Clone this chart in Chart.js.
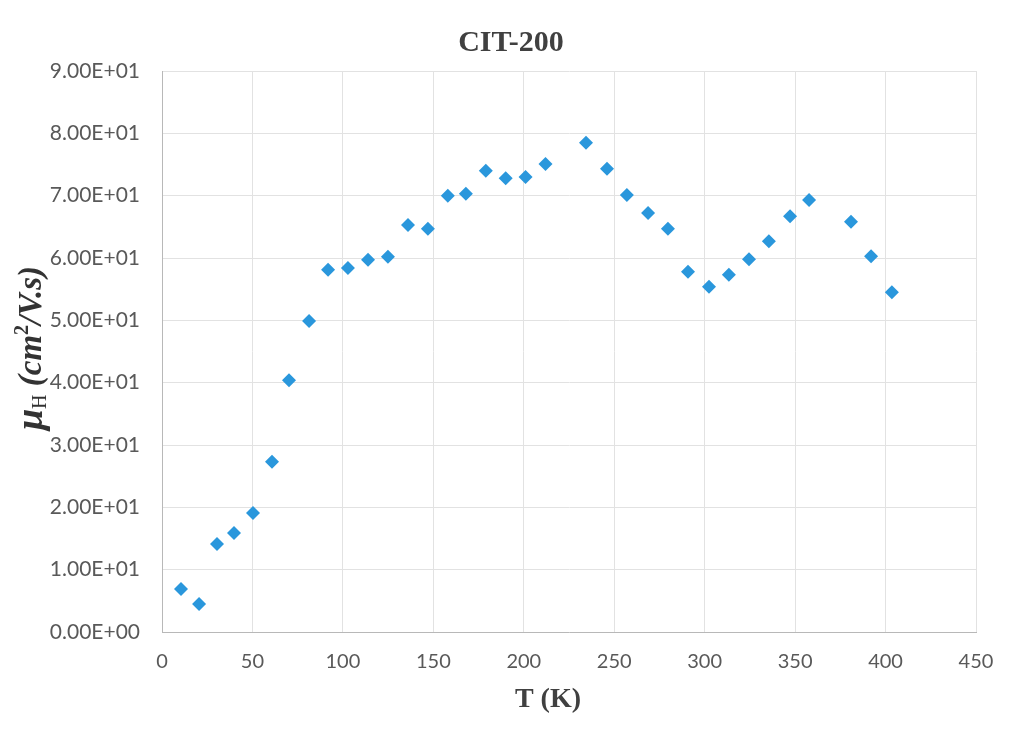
<!DOCTYPE html>
<html>
<head>
<meta charset="utf-8">
<title>CIT-200</title>
<script src="https://cdn.jsdelivr.net/npm/chart.js@4/dist/chart.umd.min.js"></script>
<style>
  html, body { margin: 0; padding: 0; background: #fff; }
  #wrap { width: 1014px; height: 732px; }
</style>
</head>
<body>
<div id="wrap"><canvas id="mobilityChart" width="1014" height="732"></canvas></div>
<script>
// Hall-mobilitet mot temperatur for CIT-200
const temperaturK = [10.5, 20.5, 30.4, 39.8, 50.3, 60.8, 70.2, 81.3, 91.8, 102.8,
  113.9, 124.9, 136, 147, 158, 168, 179, 190, 201, 212,
  234.4, 246, 257, 268.7, 279.7, 290.8, 302.4, 313.4, 324.5, 335.5,
  347.2, 357.7, 380.9, 392, 403.5];
const mobilitet = [6.9, 4.5, 14.1, 15.9, 19.1, 27.3, 40.4, 49.9, 58.1, 58.4,
  59.7, 60.2, 65.3, 64.7, 70.0, 70.3, 74.0, 72.8, 73.0, 75.1,
  78.5, 74.3, 70.1, 67.2, 64.7, 57.8, 55.4, 57.3, 59.8, 62.7,
  66.7, 69.3, 65.8, 60.3, 54.5];

const tittel = 'CIT-200';
const xTittel = 'T (K)';

const punkter = temperaturK.map((t, i) => ({ x: t, y: mobilitet[i] }));

// Excel-stil: 9.00E+01
function vitenskapelig(v) {
  if (v === 0) return '0.00E+00';
  const e = Math.floor(Math.log10(Math.abs(v)));
  const m = v / Math.pow(10, e);
  const eks = (e < 0 ? '-' : '+') + String(Math.abs(e)).padStart(2, '0');
  return m.toFixed(2) + 'E' + eks;
}

// Tittel og aksetitler tegnes for hånd (y-tittelen har senket skrift)
const tekstPlugin = {
  id: 'tekster',
  afterDraw(chart) {
    const ctx = chart.ctx;
    ctx.save();
    ctx.fillStyle = '#404040';
    ctx.textBaseline = 'middle';
    ctx.textAlign = 'center';
    ctx.font = 'bold 30px "Liberation Serif"';
    ctx.fillText(tittel, 511, 43);
    ctx.font = 'bold 28px "Liberation Serif"';
    ctx.fillText(xTittel, 548, 700);

    // μH (cm²/V.s), rotert
    ctx.translate(32, 348);
    ctx.rotate(-Math.PI / 2);
    ctx.textAlign = 'left';
    ctx.fillStyle = '#333333';
    const deler = [
      { t: 'μ', f: 'bold italic 38px "Liberation Serif"', dy: 0 },
      { t: 'H', f: '20px "Liberation Serif"', dy: 9 },
      { t: ' (cm', f: 'bold italic 33px "Liberation Serif"', dy: 0 },
      { t: '2', f: 'bold 20px "Liberation Serif"', dy: -9 },
      { t: '/V.s)', f: 'bold italic 33px "Liberation Serif"', dy: 0 }
    ];
    let bredde = 0;
    deler.forEach(d => { ctx.font = d.f; bredde += ctx.measureText(d.t).width; });
    let x = -bredde / 2;
    deler.forEach(d => {
      ctx.font = d.f;
      ctx.fillText(d.t, x, d.dy);
      x += ctx.measureText(d.t).width;
    });
    ctx.restore();
  }
};

const ctx = document.getElementById('mobilityChart').getContext('2d');

new Chart(ctx, {
  type: 'scatter',
  data: {
    datasets: [{
      label: 'μH',
      data: punkter,
      pointStyle: 'rectRot',
      pointRadius: 7,
      pointHoverRadius: 7,
      backgroundColor: '#2a97dc',
      borderColor: '#2a97dc',
      borderWidth: 0
    }]
  },
  options: {
    responsive: false,
    animation: false,
    layout: { padding: { top: 71, right: 38, left: 0, bottom: 0 } },
    plugins: {
      legend: { display: false },
      tooltip: { enabled: false }
    },
    scales: {
      x: {
        type: 'linear',
        min: 0,
        max: 450,
        ticks: {
          stepSize: 50,
          color: '#595959',
          font: { family: 'Lato', size: 20 },
          padding: 18
        },
        grid: { color: '#e2e2e2', drawTicks: false },
        border: { color: '#b8b8b8' },
        afterFit(scale) { scale.height = 100; }
      },
      y: {
        min: 0,
        max: 90,
        ticks: {
          stepSize: 10,
          color: '#595959',
          font: { family: 'Lato', size: 21 },
          padding: 22,
          callback: v => vitenskapelig(v)
        },
        grid: { color: '#e2e2e2', drawTicks: false },
        border: { color: '#b8b8b8' },
        afterFit(scale) { scale.width = 162; }
      }
    }
  },
  plugins: [tekstPlugin]
});
</script>
</body>
</html>
